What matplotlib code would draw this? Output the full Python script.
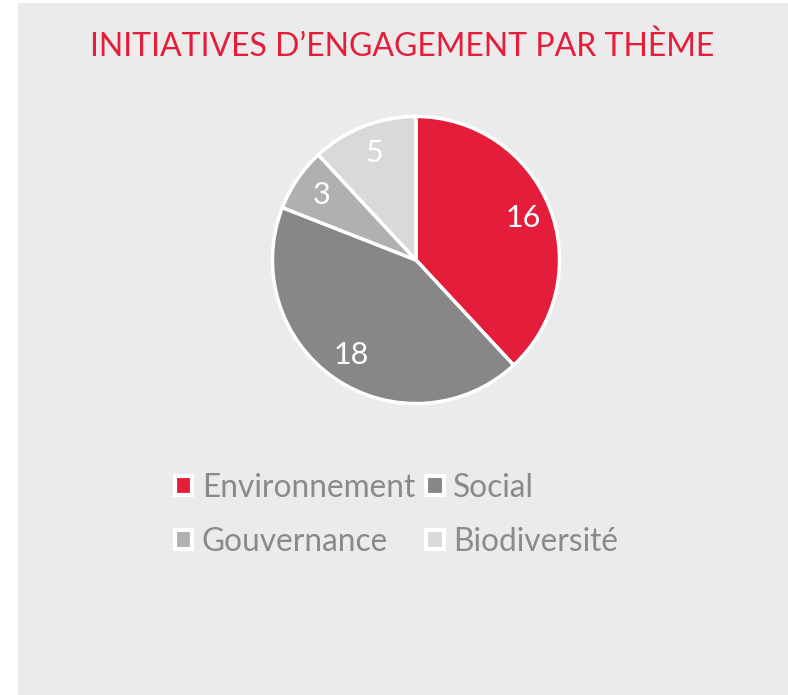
import matplotlib
matplotlib.use("Agg")
import matplotlib.pyplot as plt
from matplotlib.patches import Rectangle, Patch

plt.rcParams['font.family'] = ['Lato', 'DejaVu Sans']

title = "INITIATIVES D\u2019ENGAGEMENT PAR THÈME"
categories = ["Environnement", "Social", "Gouvernance", "Biodiversité"]
values = [16, 18, 3, 5]
colors = ["#E41E3A", "#878787", "#B0B0B0", "#D9D9D9"]

W, H = 788, 695
fig = plt.figure(figsize=(W / 100, H / 100), dpi=100, facecolor="white")
fig.patches.append(Rectangle((18 / W, 0), 1 - 18 / W, (H - 3) / H,
                             transform=fig.transFigure, facecolor="#EBEBEB",
                             edgecolor="none", zorder=-10))

cx, cy, r = 416, 260, 145
ax = fig.add_axes([(cx - r) / W, (H - cy - r) / H, 2 * r / W, 2 * r / H])
ax.set_zorder(5)
ax.set_axis_off()
wedges, texts, autotexts = ax.pie(
    values, colors=colors, startangle=90, counterclock=False, radius=1,
    autopct=lambda p: f"{round(p * sum(values) / 100):d}", pctdistance=0.8,
    wedgeprops=dict(edgecolor="white", linewidth=2.5),
    textprops=dict(color="white", fontsize=22))
ax.set_xlim(-1.01, 1.01)
ax.set_ylim(-1.01, 1.01)

fig.text(402 / W, 1 - 47 / H, title, ha="center", va="center",
         color="#E41E3A", fontsize=23)

handles = [Patch(facecolor=c, edgecolor="white", linewidth=3) for c in colors]
# legend is filled row by row in the reference: reorder for column-major fill
order = [0, 2, 1, 3]
leg = fig.legend([handles[i] for i in order], [categories[i] for i in order],
                 loc="upper left", bbox_to_anchor=(175 / W, 1 - 473 / H),
                 ncol=2, frameon=False, fontsize=22.8, labelcolor="#8A8A8A",
                 handlelength=0.55, handleheight=0.55, handletextpad=0.3,
                 columnspacing=0.35, labelspacing=0.75, borderpad=0,
                 borderaxespad=0)
leg.set_zorder(6)

fig.savefig("out.png", dpi=100, facecolor="white")
